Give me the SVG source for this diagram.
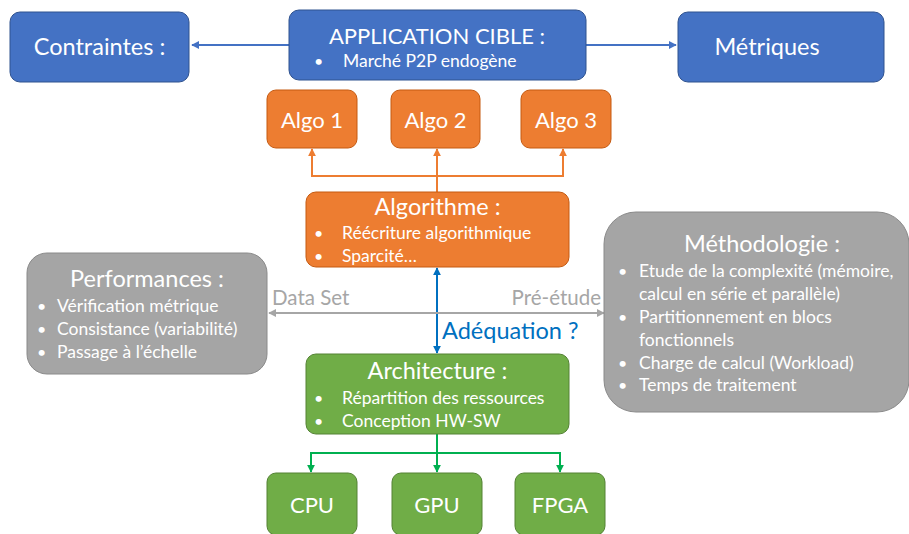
<svg xmlns="http://www.w3.org/2000/svg" width="909" height="534" viewBox="0 0 909 534">
  <style>
    text { font-family: Lato, "Open Sans", "Liberation Sans", sans-serif; fill: #ffffff; }
    .t22 { font-size: 22px; }
    .t23 { font-size: 23.5px; }
    .t16 { font-size: 17.5px; }
    .dot { font-size: 16px; }
    .mid { text-anchor: middle; }
    .blue { fill: #4472c4; stroke: #2f528f; stroke-width: 1; }
    .orange { fill: #ed7d31; stroke: #c55a11; stroke-width: 1; }
    .green { fill: #70ad47; stroke: #548235; stroke-width: 1; }
    .gray { fill: #a5a5a5; stroke: #8a8a8a; stroke-width: 1; }
    .conn { fill: none; stroke-width: 2; }
  </style>
  <defs>
    <marker id="hBlue" viewBox="0 0 10 10" refX="9" refY="5" markerWidth="4" markerHeight="4" orient="auto-start-reverse">
      <path d="M0,0 L10,5 L0,10 z" fill="#4472c4"/>
    </marker>
    <marker id="hOrange" viewBox="0 0 10 10" refX="9" refY="5" markerWidth="4" markerHeight="4" orient="auto-start-reverse">
      <path d="M0,0 L10,5 L0,10 z" fill="#ed7d31"/>
    </marker>
    <marker id="hDeep" viewBox="0 0 10 10" refX="9" refY="5" markerWidth="4" markerHeight="4" orient="auto-start-reverse">
      <path d="M0,0 L10,5 L0,10 z" fill="#0070c0"/>
    </marker>
    <marker id="hGreen" viewBox="0 0 10 10" refX="9" refY="5" markerWidth="4" markerHeight="4" orient="auto-start-reverse">
      <path d="M0,0 L10,5 L0,10 z" fill="#00b050"/>
    </marker>
    <marker id="hGray" viewBox="0 0 10 10" refX="9" refY="5" markerWidth="4" markerHeight="4" orient="auto-start-reverse">
      <path d="M0,0 L10,5 L0,10 z" fill="#a6a6a6"/>
    </marker>
  </defs>

  <!-- connectors -->
  <g id="connectors">
    <line class="conn" x1="289" y1="45" x2="192" y2="45" stroke="#4472c4" stroke-width="2.5" marker-end="url(#hBlue)"/>
    <line class="conn" x1="586" y1="45" x2="676" y2="45" stroke="#4472c4" stroke-width="2.5" marker-end="url(#hBlue)"/>
    <path class="conn" d="M437,192 V176 H312 V149" stroke="#ed7d31" marker-end="url(#hOrange)"/>
    <path class="conn" d="M437,176 V149" stroke="#ed7d31" marker-end="url(#hOrange)"/>
    <path class="conn" d="M437,176 H563 V149" stroke="#ed7d31" marker-end="url(#hOrange)"/>
    <line class="conn" x1="437" y1="268" x2="437" y2="353" stroke="#0070c0" stroke-width="3" marker-start="url(#hDeep)" marker-end="url(#hDeep)"/>
    <line class="conn" x1="269" y1="313" x2="604" y2="313" stroke="#a6a6a6" stroke-width="2.5" marker-start="url(#hGray)" marker-end="url(#hGray)"/>
    <path class="conn" d="M437,434 V472" stroke="#00b050" marker-end="url(#hGreen)"/>
    <path class="conn" d="M437,453 H311 V472" stroke="#00b050" marker-end="url(#hGreen)"/>
    <path class="conn" d="M437,453 H560 V472" stroke="#00b050" marker-end="url(#hGreen)"/>
  </g>

  <!-- connector labels -->
  <text x="272" y="305" style="font-size:20.5px; fill:#a6a6a6">Data Set</text>
  <text x="601" y="305" style="font-size:20.5px; fill:#a6a6a6; text-anchor:end">Pré-étude</text>
  <text x="442" y="339" style="font-size:23.5px; fill:#0070c0">Adéquation ?</text>

  <g id="contraintes">
    <rect class="blue" x="10" y="12" width="179" height="70" rx="10"/>
    <text class="t23 mid" x="99.5" y="55">Contraintes :</text>
  </g>
  <g id="application">
    <rect class="blue" x="289" y="10" width="297" height="70" rx="10"/>
    <text class="t22 mid" x="437" y="44">APPLICATION CIBLE :</text>
    <text class="dot" x="314" y="67">•</text>
    <text class="t16" x="343" y="67">Marché P2P endogène</text>
  </g>
  <g id="metriques">
    <rect class="blue" x="678" y="12" width="206" height="70" rx="10"/>
    <text class="t23 mid" x="767" y="55">Métriques</text>
  </g>

  <g id="algo1">
    <rect class="orange" x="267" y="90" width="90" height="58" rx="9"/>
    <text class="t22 mid" x="312" y="128">Algo 1</text>
  </g>
  <g id="algo2">
    <rect class="orange" x="391" y="90" width="89" height="58" rx="9"/>
    <text class="t22 mid" x="435.5" y="128">Algo 2</text>
  </g>
  <g id="algo3">
    <rect class="orange" x="521" y="90" width="90" height="58" rx="9"/>
    <text class="t22 mid" x="566" y="128">Algo 3</text>
  </g>

  <g id="algorithme">
    <rect class="orange" x="306" y="192" width="263" height="75" rx="10"/>
    <text class="t23 mid" x="437.5" y="215">Algorithme :</text>
    <text class="dot" x="314" y="239">•</text>
    <text class="t16" x="342" y="239">Réécriture algorithmique</text>
    <text class="dot" x="314" y="262">•</text>
    <text class="t16" x="342" y="262">Sparcité…</text>
  </g>

  <g id="performances">
    <rect class="gray" x="27" y="253" width="240" height="121" rx="20"/>
    <text class="t23 mid" x="147" y="287">Performances :</text>
    <text class="dot" x="37" y="312">•</text>
    <text class="t16" x="57" y="312">Vérification métrique</text>
    <text class="dot" x="37" y="335">•</text>
    <text class="t16" x="57" y="335">Consistance (variabilité)</text>
    <text class="dot" x="37" y="358">•</text>
    <text class="t16" x="57" y="358">Passage à l’échelle</text>
  </g>

  <g id="methodologie">
    <rect class="gray" x="604" y="212" width="305" height="200" rx="32"/>
    <text class="t23 mid" x="762" y="252">Méthodologie :</text>
    <text class="dot" x="618" y="277">•</text>
    <text class="t16" x="639" y="277">Etude de la complexité (mémoire,</text>
    <text class="t16" x="639" y="300">calcul en série et parallèle)</text>
    <text class="dot" x="618" y="323">•</text>
    <text class="t16" x="639" y="323">Partitionnement en blocs</text>
    <text class="t16" x="639" y="346">fonctionnels</text>
    <text class="dot" x="618" y="369">•</text>
    <text class="t16" x="639" y="369">Charge de calcul (Workload)</text>
    <text class="dot" x="618" y="391">•</text>
    <text class="t16" x="639" y="391">Temps de traitement</text>
  </g>

  <g id="architecture">
    <rect class="green" x="306" y="354" width="263" height="80" rx="10"/>
    <text class="t23 mid" x="437.5" y="379">Architecture :</text>
    <text class="dot" x="314" y="404">•</text>
    <text class="t16" x="342" y="404">Répartition des ressources</text>
    <text class="dot" x="314" y="427">•</text>
    <text class="t16" x="342" y="427">Conception HW-SW</text>
  </g>

  <g id="cpu">
    <rect class="green" x="267" y="473" width="90" height="62" rx="9"/>
    <text class="t22 mid" x="312" y="513">CPU</text>
  </g>
  <g id="gpu">
    <rect class="green" x="392" y="473" width="90" height="62" rx="9"/>
    <text class="t22 mid" x="437" y="513">GPU</text>
  </g>
  <g id="fpga">
    <rect class="green" x="515" y="473" width="90" height="62" rx="9"/>
    <text class="t22 mid" x="560" y="513">FPGA</text>
  </g>
</svg>
